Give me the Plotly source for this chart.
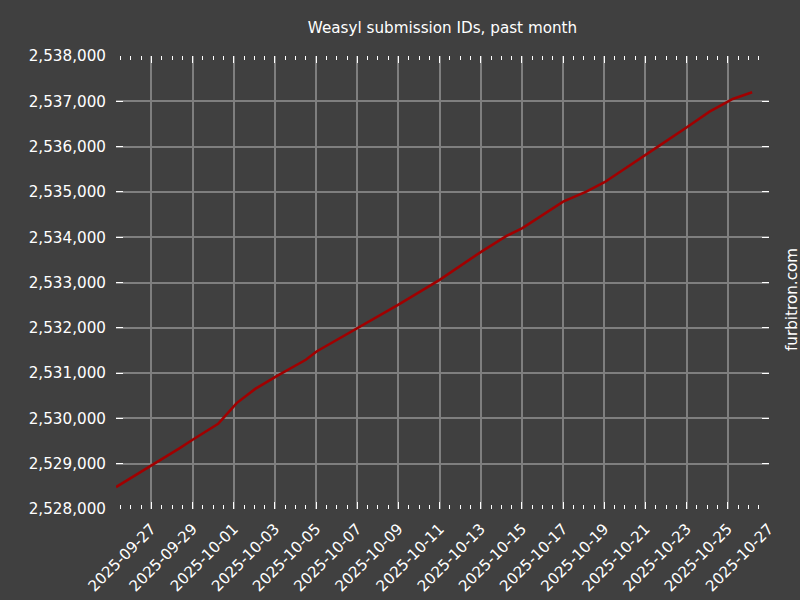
import plotly.graph_objects as go

times = [
    "2025-09-25 06:40", "2025-09-27 00:00", "2025-09-28 09:00", "2025-09-29 00:00",
    "2025-09-30 05:45", "2025-10-01 03:20", "2025-10-02 01:00", "2025-10-03 02:00",
    "2025-10-04 12:00", "2025-10-05 00:30", "2025-10-07 00:00", "2025-10-08 23:30",
    "2025-10-11 00:00", "2025-10-13 00:45", "2025-10-14 06:00", "2025-10-15 00:30",
    "2025-10-17 00:00", "2025-10-18 03:00", "2025-10-19 00:15", "2025-10-20 23:00",
    "2025-10-21 14:30", "2025-10-23 00:15", "2025-10-24 02:40", "2025-10-25 00:00",
    "2025-10-25 05:45", "2025-10-26 04:20",
]
submission_ids = [
    2528485, 2528955, 2529346, 2529529,
    2529882, 2530338, 2530650, 2530933,
    2531294, 2531477, 2531993, 2532507,
    2533060, 2533683, 2534029, 2534199,
    2534786, 2535006, 2535214, 2535794,
    2535999, 2536427, 2536771, 2536992,
    2537052, 2537199,
]

title_text = "Weasyl submission IDs, past month"
side_text = "furbitron.com"

BG = "#404040"
GRID = "#7f7f7f"
FONT = "DejaVu Sans"
FS = 15.2

fig = go.Figure()
fig.add_trace(go.Scatter(
    x=times, y=submission_ids, mode="lines",
    line=dict(color="#a00000", width=2.6),
    showlegend=False, hoverinfo="x+y",
))

fig.update_layout(
    width=800, height=600,
    paper_bgcolor=BG, plot_bgcolor=BG,
    margin=dict(l=116, r=31, t=56, b=91, autoexpand=False),
    font=dict(family=FONT, color="white", size=FS),
    title=dict(text=title_text, xref="paper", x=0.5, xanchor="center",
               yref="container", y=1 - 28 / 600, yanchor="middle",
               font=dict(family=FONT, size=FS, color="white")),
    annotations=[dict(text=side_text, textangle=-90, xref="paper", yref="paper",
                      x=1 + 23 / 653, y=209 / 453, xanchor="center", yanchor="middle",
                      showarrow=False, font=dict(family=FONT, size=FS, color="white"))],
)

fig.update_xaxes(
    type="date", automargin=False,
    range=["2025-09-25 06:40", "2025-10-27 00:00"],
    tick0="2025-09-27", dtick=2 * 86400000,
    tickformat="%Y-%m-%d", tickangle=-45,
    showgrid=True, gridcolor=GRID, gridwidth=2,
    showline=False, zeroline=False,
    ticks="inside", ticklen=7, tickwidth=1, tickcolor="white", mirror="ticks",
    minor=dict(dtick=43200000, tick0="2025-09-27", ticks="inside", ticklen=4,
               tickwidth=1, tickcolor="white", showgrid=False),
    tickfont=dict(family=FONT, size=FS, color="white"),
    ticklabelstandoff=7,
)
fig.update_yaxes(
    automargin=False,
    range=[2528000, 2538000], dtick=1000, tick0=2528000,
    tickformat=",d",
    showgrid=True, gridcolor=GRID, gridwidth=2,
    showline=False, zeroline=False,
    ticks="inside", ticklen=7, tickwidth=1, tickcolor="white", mirror="ticks",
    tickfont=dict(family=FONT, size=FS, color="white"),
    ticklabelstandoff=9,
)

fig.write_html("out.html", config={"displayModeBar": False},
               post_script="document.body.style.margin='0';document.body.style.background='#404040';")
